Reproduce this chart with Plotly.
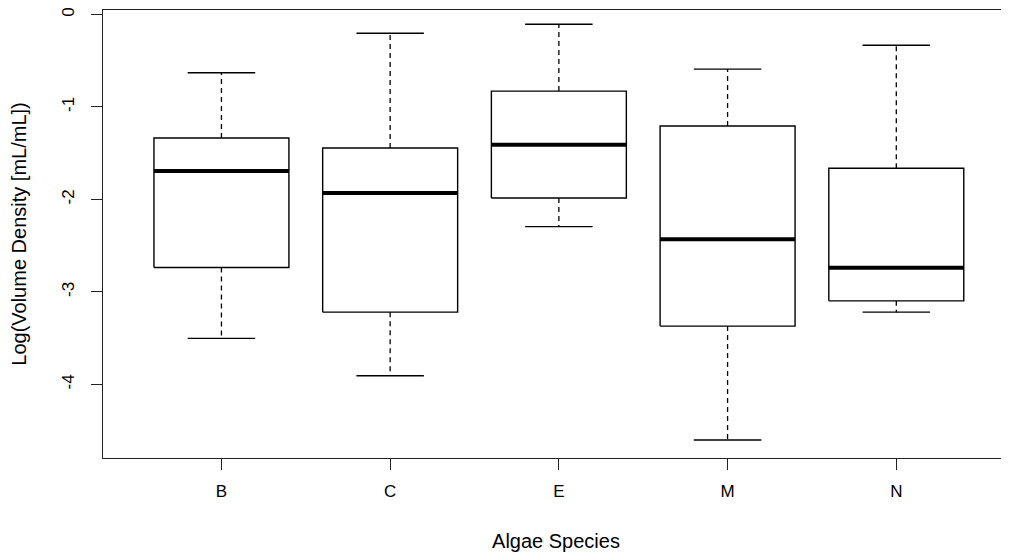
import plotly.graph_objects as go

categories = ["B", "C", "E", "M", "N"]
whisker_high = [-0.630, -0.202, -0.105, -0.591, -0.332]
q3_values = [-1.336, -1.444, -0.828, -1.206, -1.663]
medians = [-1.692, -1.930, -1.407, -2.430, -2.739]
q1_values = [-2.735, -3.218, -1.984, -3.369, -3.096]
whisker_low = [-3.502, -3.906, -2.293, -4.600, -3.218]

y_tick_vals = [0, -1, -2, -3, -4]
y_tick_text = ["0", "-1", "-2", "-3", "-4"]

BOX_HALF = 0.4
STAPLE_HALF = 0.2
FONT = "Liberation Sans, Arial, sans-serif"
FS = 17

box_x, box_y = [], []
med_x, med_y = [], []
wh_x, wh_y = [], []
st_x, st_y = [], []
for i, cat in enumerate(categories):
    c = i + 1
    box_x += [c - BOX_HALF, c + BOX_HALF, c + BOX_HALF, c - BOX_HALF, c - BOX_HALF, None]
    box_y += [q1_values[i], q1_values[i], q3_values[i], q3_values[i], q1_values[i], None]
    med_x += [c - BOX_HALF, c + BOX_HALF, None]
    med_y += [medians[i], medians[i], None]
    wh_x += [c, c, None, c, c, None]
    wh_y += [q3_values[i], whisker_high[i], None, q1_values[i], whisker_low[i], None]
    st_x += [c - STAPLE_HALF, c + STAPLE_HALF, None, c - STAPLE_HALF, c + STAPLE_HALF, None]
    st_y += [whisker_high[i], whisker_high[i], None, whisker_low[i], whisker_low[i], None]

fig = go.Figure()
fig.add_trace(go.Scatter(x=wh_x, y=wh_y, mode="lines",
                         line=dict(color="black", width=1.3, dash="5px,4px"),
                         hoverinfo="skip", showlegend=False))
fig.add_trace(go.Scatter(x=st_x, y=st_y, mode="lines",
                         line=dict(color="black", width=1.4),
                         hoverinfo="skip", showlegend=False))
fig.add_trace(go.Scatter(x=box_x, y=box_y, mode="lines",
                         line=dict(color="black", width=1.4),
                         hoverinfo="skip", showlegend=False))
fig.add_trace(go.Scatter(x=med_x, y=med_y, mode="lines",
                         line=dict(color="black", width=4),
                         hoverinfo="skip", showlegend=False))

fig.update_layout(
    width=1001, height=551,
    margin=dict(l=94.5, r=0, t=1.5, b=101),
    paper_bgcolor="white", plot_bgcolor="white",
    font=dict(family=FONT, size=FS, color="black"),
    showlegend=False,
    xaxis=dict(
        range=[0.298, 5.668],
        tickvals=[1, 2, 3, 4, 5], ticktext=categories,
        showline=True, linecolor="#222", linewidth=1.4, mirror=True,
        ticks="outside", ticklen=11, tickwidth=1.3, tickcolor="#222",
        ticklabelstandoff=6,
        showgrid=False, zeroline=False, automargin=False,
        title=dict(text="Algae Species", standoff=34),
        tickfont=dict(size=FS),
    ),
    yaxis=dict(
        range=[-4.795, 0.0486],
        tickvals=y_tick_vals, ticktext=y_tick_text,
        tickangle=-90,
        showline=True, linecolor="#222", linewidth=1.4,
        ticks="outside", ticklen=11, tickwidth=1.3, tickcolor="#222",
        ticklabelstandoff=10, ticklabeloverflow="allow",
        showgrid=False, zeroline=False, automargin=False,
        title=dict(text="Log(Volume Density [mL/mL])", standoff=31),
        tickfont=dict(size=FS),
    ),
)

fig.write_html("out.html")
